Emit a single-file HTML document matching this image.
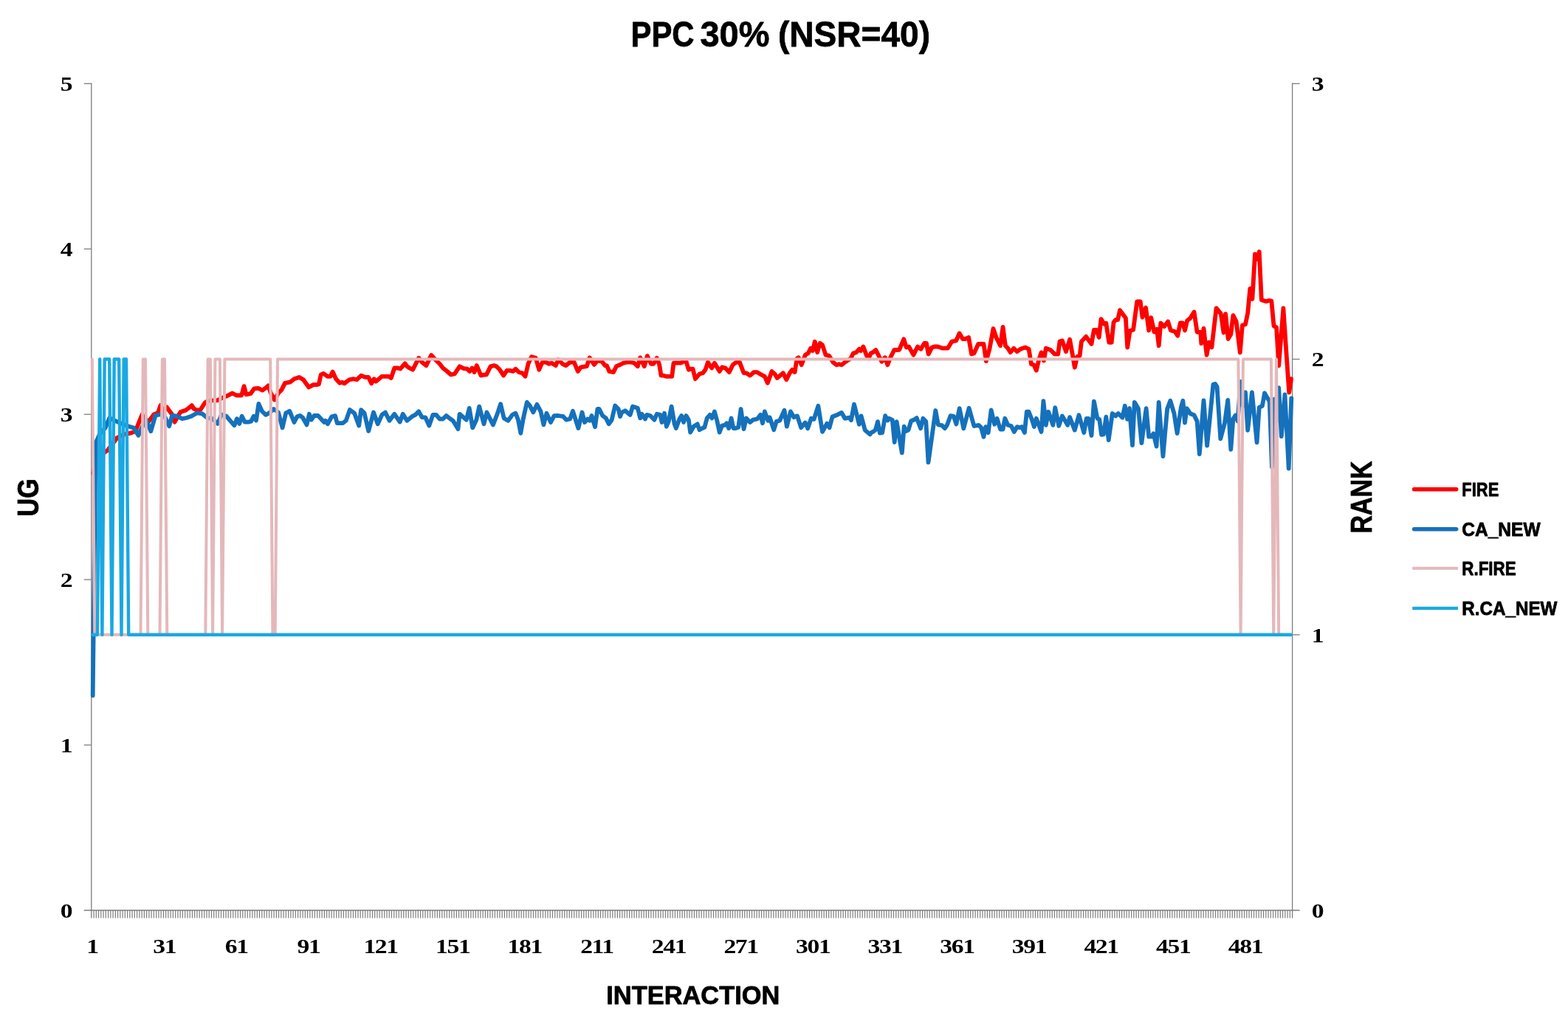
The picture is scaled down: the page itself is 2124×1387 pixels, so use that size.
<!DOCTYPE html>
<html lang="en"><head><meta charset="utf-8"><title>PPC 30% (NSR=40)</title>
<style>html,body{margin:0;padding:0;background:#fff;}body{width:2124px;height:1387px;overflow:hidden;}svg{display:block;}
.tk{font-family:"Liberation Serif",serif;font-weight:bold;font-size:28px;letter-spacing:-1.1px;fill:#000;}
.ti{font-family:"Liberation Sans",sans-serif;font-weight:bold;fill:#000;stroke:#000;stroke-width:0.8px;stroke-linejoin:round;}
</style></head><body>
<svg width="2124" height="1387" viewBox="0 0 2124 1387">
<rect x="0" y="0" width="2124" height="1387" fill="#fff"/>
<text class="ti" y="63.4" font-size="49"><tspan x="854.5" textLength="86" lengthAdjust="spacingAndGlyphs">PPC</tspan> <tspan x="948.5" textLength="94" lengthAdjust="spacingAndGlyphs">30%</tspan> <tspan x="1054" textLength="206" lengthAdjust="spacingAndGlyphs">(NSR=40)</tspan></text>
<text class="ti" transform="translate(52.1,673.9) rotate(-90)" font-size="41" text-anchor="middle" textLength="51" lengthAdjust="spacingAndGlyphs">UG</text>
<text class="ti" transform="translate(1858.4,673.5) rotate(-90)" font-size="41.5" text-anchor="middle" textLength="98" lengthAdjust="spacingAndGlyphs">RANK</text>
<text class="ti" x="938.8" y="1359.6" font-size="34.6" text-anchor="middle" textLength="235" lengthAdjust="spacingAndGlyphs" stroke-width="2">INTERACTION</text>
<g stroke="#7d7d7d" stroke-width="1.3" fill="none" shape-rendering="auto">
<line x1="123.8" y1="112.6" x2="123.8" y2="1243.5"/>
<line x1="1750.6" y1="112.6" x2="1750.6" y2="1243.5"/>
<line x1="113.8" y1="1233.0" x2="1760.6" y2="1233.0"/>
<line x1="113.8" y1="1009.1" x2="123.8" y2="1009.1"/>
<line x1="113.8" y1="785.1" x2="123.8" y2="785.1"/>
<line x1="113.8" y1="561.2" x2="123.8" y2="561.2"/>
<line x1="113.8" y1="337.2" x2="123.8" y2="337.2"/>
<line x1="113.8" y1="113.3" x2="123.8" y2="113.3"/>
<line x1="1750.6" y1="859.8" x2="1760.6" y2="859.8"/>
<line x1="1750.6" y1="486.5" x2="1760.6" y2="486.5"/>
<line x1="1750.6" y1="113.3" x2="1760.6" y2="113.3"/>
</g>
<path d="M127.05 1233.0V1243.5M130.31 1233.0V1243.5M133.56 1233.0V1243.5M136.81 1233.0V1243.5M140.07 1233.0V1243.5M143.32 1233.0V1243.5M146.58 1233.0V1243.5M149.83 1233.0V1243.5M153.08 1233.0V1243.5M156.34 1233.0V1243.5M159.59 1233.0V1243.5M162.84 1233.0V1243.5M166.10 1233.0V1243.5M169.35 1233.0V1243.5M172.60 1233.0V1243.5M175.86 1233.0V1243.5M179.11 1233.0V1243.5M182.36 1233.0V1243.5M185.62 1233.0V1243.5M188.87 1233.0V1243.5M192.13 1233.0V1243.5M195.38 1233.0V1243.5M198.63 1233.0V1243.5M201.89 1233.0V1243.5M205.14 1233.0V1243.5M208.39 1233.0V1243.5M211.65 1233.0V1243.5M214.90 1233.0V1243.5M218.15 1233.0V1243.5M221.41 1233.0V1243.5M224.66 1233.0V1243.5M227.92 1233.0V1243.5M231.17 1233.0V1243.5M234.42 1233.0V1243.5M237.68 1233.0V1243.5M240.93 1233.0V1243.5M244.18 1233.0V1243.5M247.44 1233.0V1243.5M250.69 1233.0V1243.5M253.94 1233.0V1243.5M257.20 1233.0V1243.5M260.45 1233.0V1243.5M263.70 1233.0V1243.5M266.96 1233.0V1243.5M270.21 1233.0V1243.5M273.47 1233.0V1243.5M276.72 1233.0V1243.5M279.97 1233.0V1243.5M283.23 1233.0V1243.5M286.48 1233.0V1243.5M289.73 1233.0V1243.5M292.99 1233.0V1243.5M296.24 1233.0V1243.5M299.49 1233.0V1243.5M302.75 1233.0V1243.5M306.00 1233.0V1243.5M309.26 1233.0V1243.5M312.51 1233.0V1243.5M315.76 1233.0V1243.5M319.02 1233.0V1243.5M322.27 1233.0V1243.5M325.52 1233.0V1243.5M328.78 1233.0V1243.5M332.03 1233.0V1243.5M335.28 1233.0V1243.5M338.54 1233.0V1243.5M341.79 1233.0V1243.5M345.04 1233.0V1243.5M348.30 1233.0V1243.5M351.55 1233.0V1243.5M354.81 1233.0V1243.5M358.06 1233.0V1243.5M361.31 1233.0V1243.5M364.57 1233.0V1243.5M367.82 1233.0V1243.5M371.07 1233.0V1243.5M374.33 1233.0V1243.5M377.58 1233.0V1243.5M380.83 1233.0V1243.5M384.09 1233.0V1243.5M387.34 1233.0V1243.5M390.60 1233.0V1243.5M393.85 1233.0V1243.5M397.10 1233.0V1243.5M400.36 1233.0V1243.5M403.61 1233.0V1243.5M406.86 1233.0V1243.5M410.12 1233.0V1243.5M413.37 1233.0V1243.5M416.62 1233.0V1243.5M419.88 1233.0V1243.5M423.13 1233.0V1243.5M426.38 1233.0V1243.5M429.64 1233.0V1243.5M432.89 1233.0V1243.5M436.15 1233.0V1243.5M439.40 1233.0V1243.5M442.65 1233.0V1243.5M445.91 1233.0V1243.5M449.16 1233.0V1243.5M452.41 1233.0V1243.5M455.67 1233.0V1243.5M458.92 1233.0V1243.5M462.17 1233.0V1243.5M465.43 1233.0V1243.5M468.68 1233.0V1243.5M471.94 1233.0V1243.5M475.19 1233.0V1243.5M478.44 1233.0V1243.5M481.70 1233.0V1243.5M484.95 1233.0V1243.5M488.20 1233.0V1243.5M491.46 1233.0V1243.5M494.71 1233.0V1243.5M497.96 1233.0V1243.5M501.22 1233.0V1243.5M504.47 1233.0V1243.5M507.72 1233.0V1243.5M510.98 1233.0V1243.5M514.23 1233.0V1243.5M517.49 1233.0V1243.5M520.74 1233.0V1243.5M523.99 1233.0V1243.5M527.25 1233.0V1243.5M530.50 1233.0V1243.5M533.75 1233.0V1243.5M537.01 1233.0V1243.5M540.26 1233.0V1243.5M543.51 1233.0V1243.5M546.77 1233.0V1243.5M550.02 1233.0V1243.5M553.28 1233.0V1243.5M556.53 1233.0V1243.5M559.78 1233.0V1243.5M563.04 1233.0V1243.5M566.29 1233.0V1243.5M569.54 1233.0V1243.5M572.80 1233.0V1243.5M576.05 1233.0V1243.5M579.30 1233.0V1243.5M582.56 1233.0V1243.5M585.81 1233.0V1243.5M589.06 1233.0V1243.5M592.32 1233.0V1243.5M595.57 1233.0V1243.5M598.83 1233.0V1243.5M602.08 1233.0V1243.5M605.33 1233.0V1243.5M608.59 1233.0V1243.5M611.84 1233.0V1243.5M615.09 1233.0V1243.5M618.35 1233.0V1243.5M621.60 1233.0V1243.5M624.85 1233.0V1243.5M628.11 1233.0V1243.5M631.36 1233.0V1243.5M634.62 1233.0V1243.5M637.87 1233.0V1243.5M641.12 1233.0V1243.5M644.38 1233.0V1243.5M647.63 1233.0V1243.5M650.88 1233.0V1243.5M654.14 1233.0V1243.5M657.39 1233.0V1243.5M660.64 1233.0V1243.5M663.90 1233.0V1243.5M667.15 1233.0V1243.5M670.40 1233.0V1243.5M673.66 1233.0V1243.5M676.91 1233.0V1243.5M680.17 1233.0V1243.5M683.42 1233.0V1243.5M686.67 1233.0V1243.5M689.93 1233.0V1243.5M693.18 1233.0V1243.5M696.43 1233.0V1243.5M699.69 1233.0V1243.5M702.94 1233.0V1243.5M706.19 1233.0V1243.5M709.45 1233.0V1243.5M712.70 1233.0V1243.5M715.96 1233.0V1243.5M719.21 1233.0V1243.5M722.46 1233.0V1243.5M725.72 1233.0V1243.5M728.97 1233.0V1243.5M732.22 1233.0V1243.5M735.48 1233.0V1243.5M738.73 1233.0V1243.5M741.98 1233.0V1243.5M745.24 1233.0V1243.5M748.49 1233.0V1243.5M751.74 1233.0V1243.5M755.00 1233.0V1243.5M758.25 1233.0V1243.5M761.51 1233.0V1243.5M764.76 1233.0V1243.5M768.01 1233.0V1243.5M771.27 1233.0V1243.5M774.52 1233.0V1243.5M777.77 1233.0V1243.5M781.03 1233.0V1243.5M784.28 1233.0V1243.5M787.53 1233.0V1243.5M790.79 1233.0V1243.5M794.04 1233.0V1243.5M797.30 1233.0V1243.5M800.55 1233.0V1243.5M803.80 1233.0V1243.5M807.06 1233.0V1243.5M810.31 1233.0V1243.5M813.56 1233.0V1243.5M816.82 1233.0V1243.5M820.07 1233.0V1243.5M823.32 1233.0V1243.5M826.58 1233.0V1243.5M829.83 1233.0V1243.5M833.08 1233.0V1243.5M836.34 1233.0V1243.5M839.59 1233.0V1243.5M842.85 1233.0V1243.5M846.10 1233.0V1243.5M849.35 1233.0V1243.5M852.61 1233.0V1243.5M855.86 1233.0V1243.5M859.11 1233.0V1243.5M862.37 1233.0V1243.5M865.62 1233.0V1243.5M868.87 1233.0V1243.5M872.13 1233.0V1243.5M875.38 1233.0V1243.5M878.64 1233.0V1243.5M881.89 1233.0V1243.5M885.14 1233.0V1243.5M888.40 1233.0V1243.5M891.65 1233.0V1243.5M894.90 1233.0V1243.5M898.16 1233.0V1243.5M901.41 1233.0V1243.5M904.66 1233.0V1243.5M907.92 1233.0V1243.5M911.17 1233.0V1243.5M914.42 1233.0V1243.5M917.68 1233.0V1243.5M920.93 1233.0V1243.5M924.19 1233.0V1243.5M927.44 1233.0V1243.5M930.69 1233.0V1243.5M933.95 1233.0V1243.5M937.20 1233.0V1243.5M940.45 1233.0V1243.5M943.71 1233.0V1243.5M946.96 1233.0V1243.5M950.21 1233.0V1243.5M953.47 1233.0V1243.5M956.72 1233.0V1243.5M959.98 1233.0V1243.5M963.23 1233.0V1243.5M966.48 1233.0V1243.5M969.74 1233.0V1243.5M972.99 1233.0V1243.5M976.24 1233.0V1243.5M979.50 1233.0V1243.5M982.75 1233.0V1243.5M986.00 1233.0V1243.5M989.26 1233.0V1243.5M992.51 1233.0V1243.5M995.76 1233.0V1243.5M999.02 1233.0V1243.5M1002.27 1233.0V1243.5M1005.53 1233.0V1243.5M1008.78 1233.0V1243.5M1012.03 1233.0V1243.5M1015.29 1233.0V1243.5M1018.54 1233.0V1243.5M1021.79 1233.0V1243.5M1025.05 1233.0V1243.5M1028.30 1233.0V1243.5M1031.55 1233.0V1243.5M1034.81 1233.0V1243.5M1038.06 1233.0V1243.5M1041.32 1233.0V1243.5M1044.57 1233.0V1243.5M1047.82 1233.0V1243.5M1051.08 1233.0V1243.5M1054.33 1233.0V1243.5M1057.58 1233.0V1243.5M1060.84 1233.0V1243.5M1064.09 1233.0V1243.5M1067.34 1233.0V1243.5M1070.60 1233.0V1243.5M1073.85 1233.0V1243.5M1077.10 1233.0V1243.5M1080.36 1233.0V1243.5M1083.61 1233.0V1243.5M1086.87 1233.0V1243.5M1090.12 1233.0V1243.5M1093.37 1233.0V1243.5M1096.63 1233.0V1243.5M1099.88 1233.0V1243.5M1103.13 1233.0V1243.5M1106.39 1233.0V1243.5M1109.64 1233.0V1243.5M1112.89 1233.0V1243.5M1116.15 1233.0V1243.5M1119.40 1233.0V1243.5M1122.66 1233.0V1243.5M1125.91 1233.0V1243.5M1129.16 1233.0V1243.5M1132.42 1233.0V1243.5M1135.67 1233.0V1243.5M1138.92 1233.0V1243.5M1142.18 1233.0V1243.5M1145.43 1233.0V1243.5M1148.68 1233.0V1243.5M1151.94 1233.0V1243.5M1155.19 1233.0V1243.5M1158.44 1233.0V1243.5M1161.70 1233.0V1243.5M1164.95 1233.0V1243.5M1168.21 1233.0V1243.5M1171.46 1233.0V1243.5M1174.71 1233.0V1243.5M1177.97 1233.0V1243.5M1181.22 1233.0V1243.5M1184.47 1233.0V1243.5M1187.73 1233.0V1243.5M1190.98 1233.0V1243.5M1194.23 1233.0V1243.5M1197.49 1233.0V1243.5M1200.74 1233.0V1243.5M1204.00 1233.0V1243.5M1207.25 1233.0V1243.5M1210.50 1233.0V1243.5M1213.76 1233.0V1243.5M1217.01 1233.0V1243.5M1220.26 1233.0V1243.5M1223.52 1233.0V1243.5M1226.77 1233.0V1243.5M1230.02 1233.0V1243.5M1233.28 1233.0V1243.5M1236.53 1233.0V1243.5M1239.78 1233.0V1243.5M1243.04 1233.0V1243.5M1246.29 1233.0V1243.5M1249.55 1233.0V1243.5M1252.80 1233.0V1243.5M1256.05 1233.0V1243.5M1259.31 1233.0V1243.5M1262.56 1233.0V1243.5M1265.81 1233.0V1243.5M1269.07 1233.0V1243.5M1272.32 1233.0V1243.5M1275.57 1233.0V1243.5M1278.83 1233.0V1243.5M1282.08 1233.0V1243.5M1285.34 1233.0V1243.5M1288.59 1233.0V1243.5M1291.84 1233.0V1243.5M1295.10 1233.0V1243.5M1298.35 1233.0V1243.5M1301.60 1233.0V1243.5M1304.86 1233.0V1243.5M1308.11 1233.0V1243.5M1311.36 1233.0V1243.5M1314.62 1233.0V1243.5M1317.87 1233.0V1243.5M1321.12 1233.0V1243.5M1324.38 1233.0V1243.5M1327.63 1233.0V1243.5M1330.89 1233.0V1243.5M1334.14 1233.0V1243.5M1337.39 1233.0V1243.5M1340.65 1233.0V1243.5M1343.90 1233.0V1243.5M1347.15 1233.0V1243.5M1350.41 1233.0V1243.5M1353.66 1233.0V1243.5M1356.91 1233.0V1243.5M1360.17 1233.0V1243.5M1363.42 1233.0V1243.5M1366.68 1233.0V1243.5M1369.93 1233.0V1243.5M1373.18 1233.0V1243.5M1376.44 1233.0V1243.5M1379.69 1233.0V1243.5M1382.94 1233.0V1243.5M1386.20 1233.0V1243.5M1389.45 1233.0V1243.5M1392.70 1233.0V1243.5M1395.96 1233.0V1243.5M1399.21 1233.0V1243.5M1402.46 1233.0V1243.5M1405.72 1233.0V1243.5M1408.97 1233.0V1243.5M1412.23 1233.0V1243.5M1415.48 1233.0V1243.5M1418.73 1233.0V1243.5M1421.99 1233.0V1243.5M1425.24 1233.0V1243.5M1428.49 1233.0V1243.5M1431.75 1233.0V1243.5M1435.00 1233.0V1243.5M1438.25 1233.0V1243.5M1441.51 1233.0V1243.5M1444.76 1233.0V1243.5M1448.02 1233.0V1243.5M1451.27 1233.0V1243.5M1454.52 1233.0V1243.5M1457.78 1233.0V1243.5M1461.03 1233.0V1243.5M1464.28 1233.0V1243.5M1467.54 1233.0V1243.5M1470.79 1233.0V1243.5M1474.04 1233.0V1243.5M1477.30 1233.0V1243.5M1480.55 1233.0V1243.5M1483.80 1233.0V1243.5M1487.06 1233.0V1243.5M1490.31 1233.0V1243.5M1493.57 1233.0V1243.5M1496.82 1233.0V1243.5M1500.07 1233.0V1243.5M1503.33 1233.0V1243.5M1506.58 1233.0V1243.5M1509.83 1233.0V1243.5M1513.09 1233.0V1243.5M1516.34 1233.0V1243.5M1519.59 1233.0V1243.5M1522.85 1233.0V1243.5M1526.10 1233.0V1243.5M1529.36 1233.0V1243.5M1532.61 1233.0V1243.5M1535.86 1233.0V1243.5M1539.12 1233.0V1243.5M1542.37 1233.0V1243.5M1545.62 1233.0V1243.5M1548.88 1233.0V1243.5M1552.13 1233.0V1243.5M1555.38 1233.0V1243.5M1558.64 1233.0V1243.5M1561.89 1233.0V1243.5M1565.14 1233.0V1243.5M1568.40 1233.0V1243.5M1571.65 1233.0V1243.5M1574.91 1233.0V1243.5M1578.16 1233.0V1243.5M1581.41 1233.0V1243.5M1584.67 1233.0V1243.5M1587.92 1233.0V1243.5M1591.17 1233.0V1243.5M1594.43 1233.0V1243.5M1597.68 1233.0V1243.5M1600.93 1233.0V1243.5M1604.19 1233.0V1243.5M1607.44 1233.0V1243.5M1610.70 1233.0V1243.5M1613.95 1233.0V1243.5M1617.20 1233.0V1243.5M1620.46 1233.0V1243.5M1623.71 1233.0V1243.5M1626.96 1233.0V1243.5M1630.22 1233.0V1243.5M1633.47 1233.0V1243.5M1636.72 1233.0V1243.5M1639.98 1233.0V1243.5M1643.23 1233.0V1243.5M1646.48 1233.0V1243.5M1649.74 1233.0V1243.5M1652.99 1233.0V1243.5M1656.25 1233.0V1243.5M1659.50 1233.0V1243.5M1662.75 1233.0V1243.5M1666.01 1233.0V1243.5M1669.26 1233.0V1243.5M1672.51 1233.0V1243.5M1675.77 1233.0V1243.5M1679.02 1233.0V1243.5M1682.27 1233.0V1243.5M1685.53 1233.0V1243.5M1688.78 1233.0V1243.5M1692.04 1233.0V1243.5M1695.29 1233.0V1243.5M1698.54 1233.0V1243.5M1701.80 1233.0V1243.5M1705.05 1233.0V1243.5M1708.30 1233.0V1243.5M1711.56 1233.0V1243.5M1714.81 1233.0V1243.5M1718.06 1233.0V1243.5M1721.32 1233.0V1243.5M1724.57 1233.0V1243.5M1727.82 1233.0V1243.5M1731.08 1233.0V1243.5M1734.33 1233.0V1243.5M1737.59 1233.0V1243.5M1740.84 1233.0V1243.5M1744.09 1233.0V1243.5M1747.35 1233.0V1243.5" stroke="#7d7d7d" stroke-width="1.2" fill="none"/>
<text class="tk" transform="translate(89.5,1242.8) scale(1.2,1)" text-anchor="middle">0</text>
<text class="tk" transform="translate(89.5,1018.9) scale(1.2,1)" text-anchor="middle">1</text>
<text class="tk" transform="translate(89.5,794.9) scale(1.2,1)" text-anchor="middle">2</text>
<text class="tk" transform="translate(89.5,571.0) scale(1.2,1)" text-anchor="middle">3</text>
<text class="tk" transform="translate(89.5,347.0) scale(1.2,1)" text-anchor="middle">4</text>
<text class="tk" transform="translate(89.5,123.1) scale(1.2,1)" text-anchor="middle">5</text>
<text class="tk" transform="translate(1784.6,1242.8) scale(1.2,1)" text-anchor="middle">0</text>
<text class="tk" transform="translate(1784.6,869.6) scale(1.2,1)" text-anchor="middle">1</text>
<text class="tk" transform="translate(1784.6,496.3) scale(1.2,1)" text-anchor="middle">2</text>
<text class="tk" transform="translate(1784.6,123.1) scale(1.2,1)" text-anchor="middle">3</text>
<text class="tk" transform="translate(125.1,1291.0) scale(1.2,1)" text-anchor="middle">1</text>
<text class="tk" transform="translate(222.7,1291.0) scale(1.2,1)" text-anchor="middle">31</text>
<text class="tk" transform="translate(320.3,1291.0) scale(1.2,1)" text-anchor="middle">61</text>
<text class="tk" transform="translate(418.0,1291.0) scale(1.2,1)" text-anchor="middle">91</text>
<text class="tk" transform="translate(515.6,1291.0) scale(1.2,1)" text-anchor="middle">121</text>
<text class="tk" transform="translate(613.2,1291.0) scale(1.2,1)" text-anchor="middle">151</text>
<text class="tk" transform="translate(710.8,1291.0) scale(1.2,1)" text-anchor="middle">181</text>
<text class="tk" transform="translate(808.4,1291.0) scale(1.2,1)" text-anchor="middle">211</text>
<text class="tk" transform="translate(906.0,1291.0) scale(1.2,1)" text-anchor="middle">241</text>
<text class="tk" transform="translate(1003.6,1291.0) scale(1.2,1)" text-anchor="middle">271</text>
<text class="tk" transform="translate(1101.2,1291.0) scale(1.2,1)" text-anchor="middle">301</text>
<text class="tk" transform="translate(1198.8,1291.0) scale(1.2,1)" text-anchor="middle">331</text>
<text class="tk" transform="translate(1296.4,1291.0) scale(1.2,1)" text-anchor="middle">361</text>
<text class="tk" transform="translate(1394.0,1291.0) scale(1.2,1)" text-anchor="middle">391</text>
<text class="tk" transform="translate(1491.6,1291.0) scale(1.2,1)" text-anchor="middle">421</text>
<text class="tk" transform="translate(1589.2,1291.0) scale(1.2,1)" text-anchor="middle">451</text>
<text class="tk" transform="translate(1686.9,1291.0) scale(1.2,1)" text-anchor="middle">481</text>
<polyline points="126.4,641.0 129.6,621.5 137.0,615.8 145.5,610.2 151.7,602.3 158.5,593.2 167.5,588.7 177.7,586.4 183.4,584.2 192.5,561.5 199.2,573.9 208.3,561.5 214.0,559.2 217.4,549.1 221.9,556.9 225.8,551.4 229.8,557.0 233.2,561.5 236.6,571.7 242.3,561.5 244.5,558.1 251.3,555.8 255.8,552.5 259.8,549.1 262.6,553.6 267.2,555.8 271.7,554.7 277.4,545.7 280.8,543.4 287.5,542.3 294.3,542.3 301.1,538.9 306.8,536.6 314.7,532.7 320.4,535.5 327.2,535.5 330.6,523.1 333.4,534.3 339.6,533.2 344.2,526.4 349.8,525.9 355.5,528.6 360.0,525.3 363.4,522.3 366.8,532.5 371.9,541.5 377.0,532.5 381.5,527.9 386.0,518.9 392.8,517.7 398.5,513.2 405.3,511.0 410.9,514.3 418.3,524.5 424.5,521.1 429.1,521.1 431.9,520.5 434.7,507.5 438.1,505.9 443.8,509.8 447.7,509.8 450.6,503.6 455.1,513.2 460.2,518.8 463.6,517.8 466.4,519.4 473.2,514.3 478.9,513.2 483.4,514.3 489.1,508.7 494.7,510.9 499.2,511.0 503.2,519.4 506.6,513.2 509.4,516.6 517.4,509.8 526.4,509.8 529.8,512.0 534.3,498.5 538.9,498.5 542.3,499.6 548.5,492.3 551.3,496.2 554.7,498.5 559.2,500.7 567.2,484.9 571.7,490.6 577.4,495.1 584.2,481.0 589.8,487.2 595.5,492.8 600.0,498.5 605.7,503.0 610.8,507.5 615.8,506.4 622.6,496.3 628.3,499.1 632.8,499.6 636.2,503.0 639.6,498.5 642.5,504.1 645.8,495.1 651.5,508.6 655.5,507.6 658.9,507.5 664.5,496.3 669.1,495.1 672.5,496.3 677.0,500.8 682.1,508.6 686.6,501.9 690.6,501.9 695.1,503.0 698.5,499.7 703.0,504.2 707.5,505.3 711.5,509.8 715.5,492.8 720.0,483.2 725.7,484.9 730.2,500.7 734.7,490.6 739.2,490.6 743.8,492.8 747.2,491.7 752.8,495.1 756.2,487.2 761.9,492.8 766.4,495.1 772.1,490.6 777.7,490.6 782.8,503.0 786.8,497.4 794.7,496.2 798.7,484.4 804.9,493.9 809.4,488.3 815.1,489.4 819.6,495.1 821.9,495.1 825.3,503.0 830.9,504.1 834.9,496.2 840.0,494.0 844.5,491.7 849.1,490.6 854.2,490.5 859.2,491.7 863.8,496.2 867.2,484.4 872.8,496.2 876.8,482.1 881.9,492.8 885.3,492.8 889.8,484.9 893.2,494.0 895.5,508.7 898.9,508.7 902.3,509.8 906.8,509.8 910.2,509.8 912.5,491.7 917.0,491.7 921.5,491.7 927.2,489.4 929.4,489.4 932.8,500.7 936.2,499.6 938.5,499.6 941.9,513.2 947.5,506.5 952.1,505.2 955.5,500.8 958.9,490.6 964.0,498.5 967.9,491.7 974.7,503.0 978.1,497.4 982.6,498.5 987.7,504.1 992.8,494.0 997.4,490.6 1001.9,490.6 1007.5,505.2 1010.9,505.3 1016.0,508.6 1021.1,504.2 1025.7,504.2 1031.3,507.5 1035.8,509.8 1039.8,518.8 1045.5,503.1 1049.4,506.4 1052.8,512.0 1060.8,505.3 1065.3,514.3 1069.8,505.3 1073.2,500.8 1076.6,504.1 1079.4,486.1 1080.0,485.2 1081.7,484.2 1085.7,494.3 1090.8,480.8 1094.7,478.5 1098.1,471.7 1100.9,475.1 1103.8,462.7 1107.2,477.3 1110.6,464.9 1114.0,467.2 1118.5,480.8 1123.0,481.9 1128.7,490.9 1133.2,494.3 1136.6,493.2 1140.0,494.3 1145.7,489.8 1152.5,485.3 1155.8,478.5 1159.8,477.4 1163.8,472.9 1166.0,475.1 1169.4,469.5 1174.0,481.9 1176.8,485.2 1179.6,478.5 1182.5,477.3 1186.4,474.0 1190.9,483.0 1194.3,489.8 1198.9,484.2 1202.3,494.3 1205.7,485.3 1211.3,474.0 1215.8,474.0 1218.1,473.9 1224.3,459.3 1227.7,470.5 1231.1,469.5 1237.4,480.7 1243.0,469.5 1247.5,472.8 1252.1,464.9 1254.9,464.9 1257.7,479.6 1262.3,470.6 1266.8,469.4 1270.2,469.5 1277.0,471.7 1283.8,471.7 1289.4,462.6 1295.1,461.5 1299.6,451.4 1304.2,459.2 1307.5,459.2 1312.1,457.0 1316.0,479.6 1319.4,478.5 1320.0,477.4 1325.1,466.0 1332.5,466.0 1335.8,489.2 1340.4,472.8 1345.5,445.1 1349.4,457.0 1355.1,468.3 1358.5,442.9 1361.9,468.3 1365.3,471.7 1368.7,477.3 1373.2,471.7 1377.7,476.2 1382.3,472.8 1389.1,470.6 1393.6,472.8 1397.0,493.2 1400.4,494.3 1403.8,501.7 1407.2,487.5 1410.6,477.4 1414.0,488.6 1416.8,471.7 1423.0,474.0 1428.7,479.6 1433.2,479.6 1435.5,462.6 1438.9,461.5 1444.0,476.2 1449.1,459.8 1452.5,478.5 1455.8,497.7 1459.2,483.0 1462.6,481.9 1464.9,462.6 1471.1,455.9 1478.5,466.0 1481.9,446.8 1485.3,446.8 1488.7,456.9 1491.5,432.1 1495.5,438.8 1498.3,437.8 1502.3,463.8 1505.7,463.8 1508.5,436.6 1511.3,433.2 1514.2,433.2 1517.0,420.2 1524.9,430.9 1527.2,470.5 1530.6,448.0 1535.1,446.8 1540.2,408.3 1544.7,408.3 1547.5,429.8 1552.1,416.8 1556.2,447.5 1559.3,430.3 1563.5,449.6 1567.1,445.9 1569.7,468.3 1572.3,437.6 1577.0,442.3 1582.2,435.5 1585.8,447.5 1591.5,449.0 1595.2,454.8 1598.8,437.4 1601.9,437.4 1605.0,447.5 1608.1,434.3 1612.3,431.1 1617.5,422.5 1621.6,449.8 1626.3,449.8 1627.3,465.2 1630.5,444.9 1634.6,480.8 1637.7,463.6 1641.4,470.4 1647.6,417.4 1653.8,424.9 1657.5,450.6 1660.1,425.1 1663.7,459.0 1667.3,452.9 1670.4,427.2 1674.6,435.3 1679.8,477.6 1682.9,440.5 1687.0,439.5 1690.2,423.9 1693.3,390.9 1696.4,405.0 1700.0,344.2 1702.6,351.0 1705.7,341.0 1708.8,406.2 1715.1,408.3 1719.2,407.0 1722.3,407.5 1725.5,441.5 1729.1,443.6 1732.2,495.3 1738.4,417.4 1742.1,472.7 1746.2,531.6 1749.0,513.2" fill="none" stroke="#FF0000" stroke-width="5.8" stroke-linejoin="round" stroke-linecap="round" />
<polyline points="125.7,942.0 129.6,600.0 134.7,588.7 142.6,579.6 148.3,566.1 157.4,570.6 165.3,574.0 174.3,577.4 181.1,579.6 187.4,589.8 193.6,576.2 198.1,568.3 204.3,584.1 210.6,562.6 216.2,561.5 221.9,561.5 229.2,577.3 233.2,562.7 240.0,563.8 246.8,567.1 252.5,566.0 259.2,563.8 267.2,559.3 274.0,560.4 280.8,566.0 287.5,567.2 294.9,573.9 300.0,561.5 306.8,563.8 312.5,570.6 317.5,576.2 320.9,567.2 324.3,573.9 327.7,563.8 331.7,571.7 336.2,571.7 340.2,570.6 343.6,563.8 347.0,569.4 350.4,546.8 354.9,557.0 360.0,561.9 364.5,559.6 370.8,554.0 377.0,558.5 382.6,579.4 387.2,559.6 392.3,556.8 398.5,572.0 402.5,564.2 406.4,563.0 409.8,565.3 415.5,575.4 418.9,560.8 421.7,568.6 425.7,563.0 430.8,563.0 439.2,572.0 440.9,569.8 443.8,574.3 449.4,564.2 454.0,563.1 456.8,573.2 464.2,573.2 468.7,569.8 473.8,555.1 480.0,559.6 486.2,576.6 489.1,555.1 493.6,559.6 499.2,583.9 506.0,558.5 511.7,574.3 517.4,561.9 521.9,558.5 527.5,569.8 534.3,560.8 541.7,571.5 545.7,560.8 551.3,569.8 558.1,564.2 562.6,561.9 567.2,557.4 571.7,565.2 576.2,565.3 581.3,576.6 586.4,561.9 590.9,561.9 595.5,567.5 600.0,567.5 604.5,563.1 610.2,567.5 613.6,569.8 620.4,581.1 622.6,560.8 631.7,568.6 635.7,552.9 640.2,579.4 645.3,568.7 649.2,550.6 655.5,574.3 659.4,558.5 667.9,575.4 673.6,560.8 678.1,547.2 682.6,566.4 688.3,569.8 694.0,561.9 698.5,559.7 701.9,568.7 705.3,586.8 708.7,567.5 713.8,544.9 717.7,549.4 722.3,558.5 727.4,547.8 732.5,557.4 736.4,575.4 740.4,559.7 746.0,572.0 750.6,563.1 756.2,563.0 763.0,564.2 767.0,568.6 772.1,567.5 776.0,556.8 783.4,580.0 788.5,558.5 791.9,572.0 795.8,567.6 798.7,569.8 801.5,563.1 806.0,578.3 809.4,554.0 811.7,554.0 816.2,563.0 820.8,566.4 824.7,574.3 828.7,568.7 833.2,549.5 837.7,554.0 840.0,564.1 842.3,558.5 846.8,556.3 853.6,561.9 857.0,550.6 863.8,552.8 867.2,566.4 869.4,560.8 874.0,567.5 876.2,561.9 880.8,563.0 886.4,568.6 889.8,560.8 894.3,561.9 896.6,572.0 900.0,559.7 902.8,577.7 905.7,570.9 909.6,550.6 913.6,574.3 915.8,580.0 920.4,567.5 923.2,563.1 926.0,572.0 929.4,563.1 932.8,568.7 935.1,585.6 939.6,577.7 944.7,574.4 947.5,582.2 951.5,580.0 954.3,578.9 957.7,566.4 961.7,561.9 964.5,566.4 967.9,557.4 971.3,569.8 974.7,585.6 978.1,576.6 982.6,575.5 984.3,573.2 987.2,580.0 990.6,566.5 993.4,580.0 996.8,580.0 1000.2,578.8 1003.6,554.0 1007.5,581.1 1010.9,566.5 1016.0,572.0 1020.0,568.7 1025.7,567.5 1030.2,561.9 1033.0,573.2 1035.8,557.4 1040.4,569.8 1042.6,565.3 1048.3,582.2 1051.7,570.9 1056.2,569.8 1062.5,555.7 1065.8,577.7 1070.9,557.4 1075.5,565.2 1079.4,563.4 1080.0,563.4 1085.1,579.2 1090.8,572.5 1094.2,580.3 1098.7,566.8 1102.6,567.9 1108.3,549.8 1114.0,584.9 1120.2,573.6 1123.6,579.2 1127.5,564.5 1133.2,562.3 1140.0,558.9 1144.5,566.8 1150.2,565.7 1153.0,569.0 1157.0,547.6 1163.8,574.7 1166.6,563.4 1171.7,582.6 1178.5,588.3 1180.0,586.2 1182.9,584.7 1185.8,582.5 1189.0,571.1 1191.9,586.7 1195.1,586.2 1199.1,563.2 1202.4,569.4 1204.5,566.8 1208.8,568.8 1211.7,599.0 1214.6,571.1 1221.8,613.4 1224.7,577.6 1227.6,583.9 1230.5,582.5 1234.1,570.3 1237.7,568.8 1241.7,566.1 1247.1,580.2 1250.3,566.8 1254.3,571.0 1257.5,626.4 1267.3,556.0 1270.9,575.3 1275.9,576.1 1279.9,580.2 1283.1,575.3 1287.5,563.2 1291.8,563.8 1295.4,574.5 1299.7,553.1 1305.3,580.3 1312.6,552.7 1319.4,577.0 1320.0,577.0 1325.7,575.9 1329.1,579.2 1332.5,591.7 1335.3,578.1 1338.7,586.0 1342.6,555.5 1347.2,574.7 1350.6,566.8 1355.1,581.5 1358.5,581.5 1361.3,566.8 1365.3,575.8 1369.8,577.0 1373.8,584.9 1377.7,578.1 1381.1,579.2 1384.0,578.1 1387.9,586.0 1390.8,557.7 1393.6,557.7 1398.1,569.1 1400.9,578.1 1403.8,566.8 1410.6,584.9 1413.4,543.1 1416.8,575.8 1420.2,557.8 1426.4,575.8 1429.2,552.1 1434.3,576.9 1438.9,563.4 1446.2,575.8 1449.1,565.1 1455.8,582.6 1461.5,562.3 1468.3,586.0 1471.7,566.8 1474.5,566.8 1478.5,590.0 1481.9,543.6 1486.4,566.8 1489.2,567.9 1492.1,588.8 1494.9,588.3 1498.3,564.6 1501.7,596.2 1506.8,560.0 1511.3,563.4 1514.7,560.0 1520.4,565.6 1523.8,549.8 1527.2,567.9 1530.0,553.2 1534.0,603.0 1536.8,544.8 1541.9,553.2 1546.4,600.2 1552.6,553.2 1556.2,591.4 1559.9,591.4 1562.5,587.4 1566.6,604.6 1569.7,544.9 1575.4,618.1 1581.1,554.0 1585.3,542.8 1590.5,560.2 1594.6,587.0 1599.8,551.9 1602.4,542.8 1605.0,572.5 1607.6,553.2 1612.3,560.2 1617.5,562.3 1621.6,570.6 1624.8,615.0 1630.5,542.3 1635.1,603.6 1639.3,562.3 1643.4,520.8 1646.0,519.9 1648.6,523.9 1653.3,594.3 1659.0,572.7 1663.2,541.8 1667.3,608.8 1670.4,567.5 1673.5,562.5 1676.7,570.4 1680.3,516.8 1683.9,549.6 1687.0,531.4 1690.2,582.8 1695.9,531.4 1702.6,599.4 1705.7,551.9 1709.9,549.8 1713.0,532.4 1716.4,538.4 1719.7,543.6 1723.0,632.7 1726.2,540.7 1729.5,570.4 1732.2,525.1 1735.8,591.1 1740.5,534.5 1745.7,634.7 1749.3,539.5" fill="none" stroke="#1571BB" stroke-width="5.8" stroke-linejoin="round" stroke-linecap="round" />
<polyline points="124.8,486.5 128.3,859.8 190.5,859.8 193.8,486.5 197.0,486.5 200.3,859.8 216.5,859.8 219.8,486.5 223.0,486.5 226.3,859.8 278.3,859.8 281.6,486.5 284.9,486.5 288.1,859.8 291.4,486.5 297.9,486.5 301.1,859.8 304.4,486.5 366.2,486.5 369.4,859.8 372.7,859.8 376.0,486.5 1677.4,486.5 1680.6,859.8 1683.9,486.5 1721.9,486.5 1725.2,859.8 1729.0,486.5 1732.2,859.8 1749.0,859.8" fill="none" stroke="#E4B8BA" stroke-width="4.0" stroke-linejoin="round" stroke-linecap="round" />
<polyline points="125.4,859.8 131.9,859.8 135.2,486.5 138.4,859.8 141.7,486.5 148.2,486.5 151.5,859.8 154.7,486.5 161.2,486.5 164.5,859.8 167.7,486.5 171.0,486.5 174.2,859.8 1749.0,859.8" fill="none" stroke="#1AA8E2" stroke-width="4.4" stroke-linejoin="round" stroke-linecap="round" />
<line x1="1915.5" y1="662.7" x2="1972.7" y2="662.7" stroke="#FF0000" stroke-width="5.4" stroke-linecap="round"/>
<text class="ti" x="1980.3" y="672.1" font-size="25.5" stroke-width="0.5" textLength="50.0" lengthAdjust="spacingAndGlyphs">FIRE</text>
<line x1="1915.5" y1="716.7" x2="1972.7" y2="716.7" stroke="#1571BB" stroke-width="5.4" stroke-linecap="round"/>
<text class="ti" x="1980.3" y="726.1" font-size="25.5" stroke-width="0.5" textLength="106.3" lengthAdjust="spacingAndGlyphs">CA_NEW</text>
<line x1="1913.2" y1="769.8" x2="1975.0" y2="769.8" stroke="#E4B8BA" stroke-width="4.0" stroke-linecap="butt"/>
<text class="ti" x="1980.3" y="779.2" font-size="25.5" stroke-width="0.5" textLength="73.4" lengthAdjust="spacingAndGlyphs">R.FIRE</text>
<line x1="1913.2" y1="823.9" x2="1975.0" y2="823.9" stroke="#1AA8E2" stroke-width="4.4" stroke-linecap="butt"/>
<text class="ti" x="1980.3" y="833.3" font-size="25.5" stroke-width="0.5" textLength="129.1" lengthAdjust="spacingAndGlyphs">R.CA_NEW</text>
</svg></body></html>
